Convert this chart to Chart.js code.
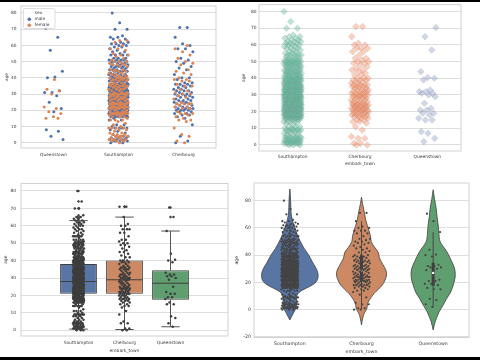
<!DOCTYPE html>
<html><head><meta charset="utf-8">
<script src="https://cdn.jsdelivr.net/npm/chart.js@4.4.0/dist/chart.umd.min.js"></script>
<style>
html,body{margin:0;padding:0;background:#fff;width:480px;height:360px;overflow:hidden;position:relative}
.tile{position:absolute;overflow:hidden}
.tile canvas{display:block}
.band{position:absolute;left:0;width:480px;background:#000}
</style></head><body>
<div class="tile" style="left:0;top:0;width:240px;height:160px"><canvas id="c1" width="240" height="172"></canvas></div>
<div class="tile" style="left:240px;top:0;width:240px;height:172px"><canvas id="c2" width="240" height="172"></canvas></div>
<div class="tile" style="left:0;top:176px;width:232px;height:181px"><canvas id="c3" width="232" height="181"></canvas></div>
<div class="tile" style="left:231px;top:176px;width:249px;height:181px"><canvas id="c4" width="249" height="181"></canvas></div>
<div class="band" style="top:0;height:2px"></div>
<div class="band" style="top:357px;height:3px"></div>
<script>
// ---------- data ----------
const towns = ['Southampton', 'Cherbourg', 'Queenstown'];
const stripTowns = ['Queenstown', 'Southampton', 'Cherbourg'];
const sexLabels = ['male', 'female'];
const ageTicks = [0, 10, 20, 30, 40, 50, 60, 70, 80];
const violinTicks = [-20, 0, 20, 40, 60, 80];

// passenger counts per whole year of age (index = age 0..80)
const southamptonMaleCounts = [2,4,5,3,4,1,1,1,1,4, 1,2,0,0,2,1,7,7,12,13, 5,16,16,7,12,12,10,8,14,12,
  14,8,11,10,10,8,11,4,6,7, 6,4,5,2,4,4,3,4,3,4, 4,4,3,0,4,1,2,1,1,2, 2,3,2,0,2,2,1,0,0,0, 2,0,0,0,1,0,0,0,0,0, 1];
const southamptonFemaleCounts = [1,3,4,2,4,3,2,1,2,4, 1,1,1,1,3,1,3,3,9,4, 2,5,8,3,9,3,3,5,4,4,
  8,3,2,4,3,5,4,2,3,5, 4,3,3,2,3,3,0,2,3,2, 3,1,1,1,2,1,0,1,2,0, 1,0,1,2,0,0,0,0,0,0, 0,0,0,0,0,0,0,0,0,0, 0];
const cherbourgMaleCounts = [1,1,0,0,1,0,0,0,0,0, 0,1,0,0,0,1,1,2,2,2, 4,4,3,2,3,3,3,2,2,3,
  3,2,3,2,2,2,3,2,0,1, 2,0,1,0,0,1,1,1,0,1, 1,1,1,0,0,0,1,0,2,0, 1,1,0,0,0,1,0,0,0,0, 0,2,0,0,0,0,0,0,0,0, 0];
const cherbourgFemaleCounts = [1,1,0,0,1,1,0,0,0,1, 0,0,0,1,2,1,1,1,3,1, 0,2,2,1,4,1,0,1,1,1,
  2,1,1,1,0,2,1,0,2,2, 1,0,1,1,1,1,0,0,1,1, 1,0,1,0,1,0,1,0,1,0, 1,0,0,0,0,0,0,0,0,0, 0,0,0,0,0,0,0,0,0,0, 0];
const queenstownMaleAges = [70.5,65,57,44,40.5,40,32,31,31,29,25,21,19,8,7,4,2];
const queenstownFemaleAges = [39,33,32,30,22,21,19,18,16,15,15];

// box plot statistics (Southampton, Cherbourg, Queenstown)
const boxQ1 = [21, 21, 17.5];
const boxMedian = [28, 29, 27];
const boxQ3 = [38, 40, 34.5];
const whiskerLow = [0.67, 0.42, 2];
const whiskerHigh = [63, 65, 57];
const fliersSouthampton = [64, 64, 65, 65, 66, 70, 70, 74, 80];
const fliersCherbourg = [71, 71];
const fliersQueenstown = [65, 70.5];

// violin outlines: age and half width (in category units)
const southamptonViolinAge  = [-7.6,-5.5,-3,0,2,5,8.5,10.5,12.5,14.5,17,19.5,22,25,28,31,35,40,45,50,55,60,64,69.5,75,80,84,88.6];
const southamptonViolinHalf = [0,0.02,0.045,0.075,0.088,0.094,0.094,0.1,0.125,0.18,0.275,0.35,0.385,0.395,0.386,0.36,0.315,0.265,0.2,0.148,0.105,0.07,0.045,0.021,0.014,0.011,0.007,0];
const cherbourgViolinAge  = [-11.2,-6,-2.6,1,4.7,8.4,12,15,18,22,25.5,29,33,38,42,46,50,54,58,62,66,70,74,78,82.6];
const cherbourgViolinHalf = [0,0.018,0.038,0.075,0.085,0.126,0.177,0.235,0.289,0.33,0.349,0.34,0.3,0.25,0.235,0.18,0.135,0.125,0.105,0.08,0.058,0.045,0.03,0.014,0];
const queenstownViolinAge  = [-14.9,-8.8,-1.5,3,8.4,13,18.1,24,30,35.2,42.6,49.9,56,62.2,68,74.4,81,88];
const queenstownViolinHalf = [0,0.028,0.084,0.135,0.191,0.245,0.279,0.307,0.3,0.26,0.191,0.098,0.08,0.07,0.055,0.042,0.02,0];

// ---------- styles ----------
const TXT = '#3a3a3a', GRID = '#dedede', FRAME = '#d2d2d2', EDGE = '#3f3f3f';
const sexColors = ['#4C72B0', '#DD8452'];
const set2 = [[102,194,165],[252,141,98],[141,160,203]];
const boxColors = ['#5975a4', '#cc8963', '#5f9e6e'];
const FAM = 'DejaVu Sans';

// ---------- helpers ----------
function expand(counts) { const out = []; counts.forEach((c, a) => { for (let k = 0; k < c; k++) out.push(a); }); return out; }
function jit(i, seed, half) { const f = (i * 0.6180339887 + seed) % 1; return (f * 2 - 1) * half; }
function strip(ages, pos, seed, half) { return ages.map((a, i) => ({ x: pos + jit(i, seed, half), y: a })); }
function violinShape(pos, ages, half) {
  const right = ages.map((a, k) => ({ x: pos + half[k], y: a }));
  const left = ages.map((a, k) => ({ x: pos - half[k], y: a })).reverse();
  return right.concat(left);
}
function segs(list) { const out = []; list.forEach(s => { out.push(s[0], s[1], { x: s[1].x, y: null }); }); return out; }

const maleByStrip = [queenstownMaleAges, expand(southamptonMaleCounts), expand(cherbourgMaleCounts)];
const femaleByStrip = [queenstownFemaleAges, expand(southamptonFemaleCounts), expand(cherbourgFemaleCounts)];
const allByTown = [
  expand(southamptonMaleCounts).concat(expand(southamptonFemaleCounts)).sort((a, b) => a - b),
  expand(cherbourgMaleCounts).concat(expand(cherbourgFemaleCounts)).sort((a, b) => a - b),
  queenstownMaleAges.concat(queenstownFemaleAges).sort((a, b) => a - b)
];
const fliers = [fliersSouthampton, fliersCherbourg, fliersQueenstown];

const framePlugin = { id: 'frame', beforeDatasetsDraw(c) {
  const a = c.chartArea, ctx = c.ctx; ctx.save(); ctx.strokeStyle = FRAME; ctx.lineWidth = 1;
  ctx.strokeRect(a.left, a.top, a.right - a.left, a.bottom - a.top); ctx.restore(); } };

function opts(o) {
  return {
    responsive: false, animation: false, devicePixelRatio: 1,
    layout: { padding: o.pad },
    plugins: { legend: { display: false }, tooltip: { enabled: false } },
    scales: {
      x: { type: 'linear', min: -0.5, max: 2.5,
        afterBuildTicks: s => { s.ticks = [0, 1, 2].map(v => ({ value: v })); },
        afterFit: s => { s.height = o.xH; s.paddingLeft = 0; s.paddingRight = 0; },
        grid: { display: false, drawTicks: false }, border: { display: false },
        ticks: { callback: v => o.labels[v], font: { family: FAM, size: o.fs }, color: TXT, padding: o.tpx, maxRotation: 0, autoSkip: false },
        title: { display: true, text: 'embark_town', font: { family: FAM, size: o.fs }, color: TXT, padding: { top: 0, bottom: o.ttx } } },
      y: { type: 'linear', min: o.yMin, max: o.yMax,
        afterBuildTicks: s => { s.ticks = o.yTicks.map(v => ({ value: v })); },
        afterFit: s => { s.width = o.yW; s.paddingTop = 0; s.paddingBottom = 0; },
        grid: { color: GRID, lineWidth: 1, drawTicks: false }, border: { display: false },
        ticks: { font: { family: FAM, size: o.fs }, color: TXT, padding: o.tpy },
        title: { display: true, text: 'age', font: { family: FAM, size: o.fs }, color: TXT, padding: { top: o.tty, bottom: 0 } } }
    }
  };
}

// ---------- chart 1: strip plot by sex ----------
const legendPlugin = { id: 'sexLegend', afterDatasetsDraw(c) {
  const ctx = c.ctx; ctx.save();
  ctx.fillStyle = 'rgba(255,255,255,0.85)'; ctx.strokeStyle = '#d6d6d6'; ctx.lineWidth = 0.8;
  ctx.beginPath(); if (ctx.roundRect) ctx.roundRect(23.5, 8.5, 31.5, 20, 1.5); else ctx.rect(23.5, 8.5, 31.5, 20);
  ctx.fill(); ctx.stroke();
  ctx.font = '4.3px "DejaVu Sans"'; ctx.textBaseline = 'middle';
  ctx.fillStyle = TXT; ctx.textAlign = 'center'; ctx.fillText('sex', 38.5, 12.6);
  ctx.textAlign = 'left';
  sexLabels.forEach((lab, k) => { const y = 19.3 + k * 6;
    ctx.fillStyle = sexColors[k]; ctx.beginPath(); ctx.arc(29.3, y, 1.8, 0, Math.PI * 2); ctx.fill();
    ctx.fillStyle = TXT; ctx.fillText(lab, 34.5, y); });
  ctx.restore(); } };

new Chart(document.getElementById('c1'), {
  type: 'scatter',
  data: { datasets: [
    { label: 'female', data: femaleByStrip.flatMap((ages, p) => strip(ages, p, 0.55, 0.15)), backgroundColor: sexColors[1], pointRadius: 1.5, borderWidth: 0, order: 0 },
    { label: 'male', data: maleByStrip.flatMap((ages, p) => strip(ages, p, 0.1, 0.15)), backgroundColor: sexColors[0], pointRadius: 1.5, borderWidth: 0, order: 1 }
  ] },
  options: opts({ pad: { left: 0, right: 24, top: 6, bottom: 0 }, yW: 21, xH: 24, fs: 4.3, tpx: 4, tpy: 4.5, tty: 4.4, ttx: 6.4,
    yMin: -3.3, yMax: 84.3, yTicks: ageTicks, labels: stripTowns }),
  plugins: [framePlugin, legendPlugin]
});

// ---------- chart 2: diamond strip plot ----------
new Chart(document.getElementById('c2'), {
  type: 'scatter',
  data: { datasets: allByTown.map((ages, p) => ({
    label: towns[p], data: strip(ages, p, 0.3, 0.13), pointStyle: 'rectRot', pointRadius: 3.3,
    backgroundColor: `rgba(${set2[p].join(',')},0.42)`, borderColor: 'rgba(128,128,128,0.3)', borderWidth: 0.6 })) },
  options: opts({ pad: { left: 0, right: 19, top: 4, bottom: 0 }, yW: 19, xH: 21, fs: 4.4, tpx: 3.4, tpy: 2.5, tty: 1.4, ttx: 5.9,
    yMin: -3.6, yMax: 84.2, yTicks: ageTicks, labels: towns }),
  plugins: [framePlugin]
});

// ---------- chart 3: box plot + strip ----------
const medianSegs = segs(towns.map((t, i) => [{ x: i - 0.4, y: boxMedian[i] }, { x: i + 0.4, y: boxMedian[i] }]));
const whiskerSegs = segs(towns.flatMap((t, i) => [
  [{ x: i, y: boxQ3[i] }, { x: i, y: whiskerHigh[i] }],
  [{ x: i - 0.2, y: whiskerHigh[i] }, { x: i + 0.2, y: whiskerHigh[i] }],
  [{ x: i, y: boxQ1[i] }, { x: i, y: whiskerLow[i] }],
  [{ x: i - 0.2, y: whiskerLow[i] }, { x: i + 0.2, y: whiskerLow[i] }]
]));
new Chart(document.getElementById('c3'), {
  type: 'scatter',
  data: { datasets: [
    { label: 'points', data: allByTown.flatMap((ages, p) => strip(ages, p, 0.7, 0.12)), backgroundColor: '#3d3d3d', pointRadius: 1.25, borderWidth: 0, order: 0 },
    { label: 'fliers', data: fliers.flatMap((f, p) => f.map(v => ({ x: p, y: v }))), pointStyle: 'rectRot', pointRadius: 1.6, backgroundColor: '#4a4a4a', borderWidth: 0, order: 1 },
    { label: 'median', data: medianSegs, showLine: true, borderColor: EDGE, borderWidth: 1, pointRadius: 0, spanGaps: false, order: 2 },
    { label: 'whiskers', data: whiskerSegs, showLine: true, borderColor: '#555555', borderWidth: 1, pointRadius: 0, spanGaps: false, order: 3 },
    { type: 'bar', label: 'box', data: towns.map((t, i) => ({ x: i, y: [boxQ1[i], boxQ3[i]] })), backgroundColor: boxColors,
      borderColor: EDGE, borderWidth: 1, borderSkipped: false, categoryPercentage: 1, barPercentage: 0.8, order: 4 }
  ] },
  options: opts({ pad: { left: 0, right: 3, top: 7.5, bottom: 0 }, yW: 21, xH: 21, fs: 4.4, tpx: 4.4, tpy: 5, tty: 2.9, ttx: 3.9,
    yMin: -3.3, yMax: 84.3, yTicks: ageTicks, labels: towns }),
  plugins: [framePlugin]
});

// ---------- chart 4: violin plot + strip ----------
const violinAges = [southamptonViolinAge, cherbourgViolinAge, queenstownViolinAge];
const violinHalves = [southamptonViolinHalf, cherbourgViolinHalf, queenstownViolinHalf];
const innerThin = segs(towns.map((t, i) => [{ x: i, y: whiskerLow[i] }, { x: i, y: whiskerHigh[i] }]));
const innerThick = segs(towns.map((t, i) => [{ x: i, y: boxQ1[i] }, { x: i, y: boxQ3[i] }]));
new Chart(document.getElementById('c4'), {
  type: 'scatter',
  data: { datasets: [
    { label: 'points', data: allByTown.flatMap((ages, p) => strip(ages, p, 0.45, 0.12)), backgroundColor: '#444444', pointRadius: 1.1, borderWidth: 0, order: 0 },
    { label: 'median', data: towns.map((t, i) => ({ x: i, y: boxMedian[i] })), backgroundColor: '#ffffff', pointRadius: 1.2, borderWidth: 0, order: 1 },
    { label: 'iqr', data: innerThick, showLine: true, borderColor: EDGE, borderWidth: 3, pointRadius: 0, spanGaps: false, order: 2 },
    { label: 'range', data: innerThin, showLine: true, borderColor: EDGE, borderWidth: 0.9, pointRadius: 0, spanGaps: false, order: 3 },
    ...towns.map((t, i) => ({ label: t, data: violinShape(i, violinAges[i], violinHalves[i]), showLine: true, fill: 'shape',
      backgroundColor: boxColors[i], borderColor: EDGE, borderWidth: 0.8, pointRadius: 0, tension: 0.35, order: 4 + i }))
  ] },
  options: opts({ pad: { left: 0, right: 11, top: 7, bottom: 0 }, yW: 23, xH: 19.5, fs: 4.7, tpx: 3.7, tpy: 3, tty: 3.2, ttx: 2.2,
    yMin: -20.4, yMax: 93, yTicks: violinTicks, labels: towns }),
  plugins: [framePlugin]
});
</script>
</body></html>
